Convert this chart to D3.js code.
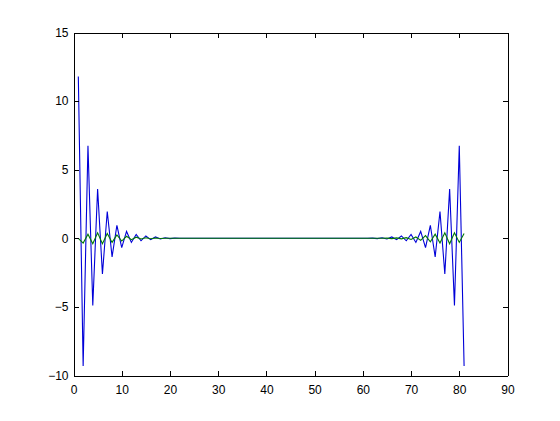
<!DOCTYPE html>
<html>
<head>
<meta charset="utf-8">
<script src="https://cdn.jsdelivr.net/npm/d3@7"></script>
<style>
  html, body { margin: 0; padding: 0; background: #ffffff; }
  svg { display: block; }
  .tick text { font-family: "Liberation Sans", Arial, Helvetica, sans-serif; font-size: 12px; fill: #000; }
</style>
</head>
<body>
<svg id="chart" width="560" height="421"></svg>
<script>
// Sample index (1..81)
const index = d3.range(1, 82);

// Series 1 (blue) values, k = 1..81
const blueValues = [
  11.8, -9.3, 6.75, -4.9, 3.6, -2.6, 1.95, -1.35, 0.95, -0.68,
  0.5, -0.3, 0.28, -0.18, 0.17, -0.1, 0.1, -0.05, 0.04, -0.02,
  0.01, 0, 0, 0, 0, 0, 0, 0, 0, 0,
  0, 0, 0, 0, 0, 0, 0, 0, 0, 0,
  0, 0, 0, 0, 0, 0, 0, 0, 0, 0,
  0, 0, 0, 0, 0, 0, 0, 0, 0, 0,
  0, 0.01, -0.02, 0.04, -0.05, 0.1, -0.1, 0.17, -0.18, 0.28,
  -0.3, 0.5, -0.68, 0.95, -1.35, 1.95, -2.6, 3.6, -4.9, 6.75,
  -9.3
];

// Series 2 (green) values, k = 1..81
const greenValues = [
  0, -0.35, 0.3, -0.4, 0.4, -0.4, 0.35, -0.3, 0.25, -0.2,
  0.15, -0.1, 0.08, -0.05, 0.04, -0.03, 0.02, -0.01, 0, 0,
  0, 0, 0, 0, 0, 0, 0, 0, 0, 0,
  0, 0, 0, 0, 0, 0, 0, 0, 0, 0,
  0, 0, 0, 0, 0, 0, 0, 0, 0, 0,
  0, 0, 0, 0, 0, 0, 0, 0, 0, 0,
  0, 0, 0, 0, 0.01, -0.02, 0.03, -0.04, 0.05, -0.08,
  0.1, -0.15, 0.2, -0.25, 0.3, -0.35, 0.4, -0.4, 0.4, -0.3,
  0.35
];

const xTicks = [0, 10, 20, 30, 40, 50, 60, 70, 80, 90];
const yTicks = [-10, -5, 0, 5, 10, 15];

const svg = d3.select("#chart");
const mLeft = 73, mRight = 507, mTop = 32, mBottom = 375;

const x = d3.scaleLinear().domain([0, 90]).range([mLeft, mRight]);
const y = d3.scaleLinear().domain([-10, 15]).range([mBottom, mTop]);

const g = svg.append("g").attr("transform", "translate(0.5,0.5)");

const line = d3.line().x((d, i) => x(index[i])).y(d => y(d));

g.append("path").datum(blueValues)
  .attr("d", line).attr("fill", "none")
  .attr("stroke", "#0000d8").attr("stroke-width", 1.1);

g.append("path").datum(greenValues)
  .attr("d", line).attr("fill", "none")
  .attr("stroke", "#007a00").attr("stroke-width", 1.1);

function style(sel) {
  sel.selectAll(".domain").attr("stroke", "#000").attr("shape-rendering", "crispEdges");
  sel.selectAll(".tick line").attr("stroke", "#000").attr("shape-rendering", "crispEdges");
}

g.append("g").attr("transform", `translate(0,${mBottom})`)
  .call(d3.axisBottom(x).tickValues(xTicks).tickSizeInner(-5).tickSizeOuter(0).tickPadding(10).tickFormat(d3.format("d")))
  .call(style);
g.append("g").attr("transform", `translate(0,${mTop})`)
  .call(d3.axisTop(x).tickValues(xTicks).tickSizeInner(-5).tickSizeOuter(0).tickFormat(""))
  .call(style);
g.append("g").attr("transform", `translate(${mLeft},0)`)
  .call(d3.axisLeft(y).tickValues(yTicks).tickSizeInner(-5).tickSizeOuter(0).tickPadding(5).tickFormat(d3.format("d")))
  .call(style);
g.append("g").attr("transform", `translate(${mRight},0)`)
  .call(d3.axisRight(y).tickValues(yTicks).tickSizeInner(-5).tickSizeOuter(0).tickFormat(""))
  .call(style);

svg.selectAll(".tick text").attr("font-family", null).attr("font-size", null);
</script>
</body>
</html>
